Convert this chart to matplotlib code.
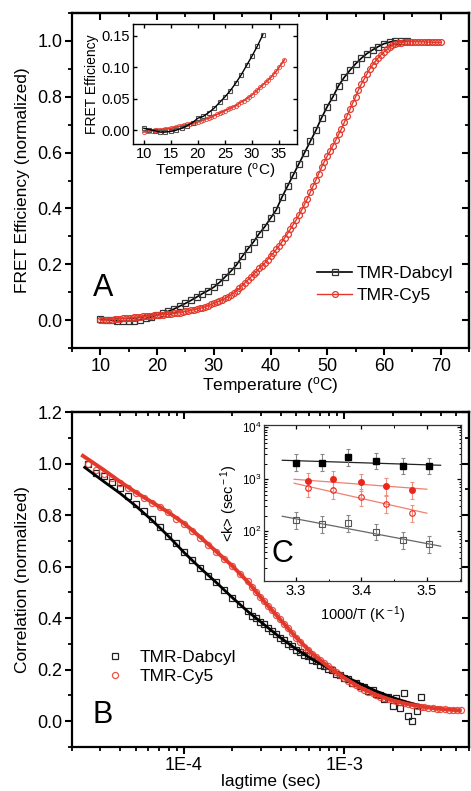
import matplotlib
matplotlib.use('Agg')
import math
import matplotlib.pyplot as plt
from matplotlib.ticker import MultipleLocator, FixedLocator, FuncFormatter, NullFormatter, LogLocator

plt.rcParams['font.family'] = ['Liberation Sans', 'DejaVu Sans']
plt.rcParams['mathtext.fontset'] = 'custom'
plt.rcParams['mathtext.rm'] = 'Liberation Sans'
plt.rcParams['mathtext.it'] = 'Liberation Sans:italic'

RED = '#e3392b'

# ---- panel A : normalized FRET efficiency vs temperature ----
temp_dabcyl = [10, 11, 12, 13, 14, 15, 16, 17, 18, 19,
               20, 21, 22, 23, 24, 25, 26, 27, 28, 29,
               30, 31, 32, 33, 34, 35, 36, 37, 38, 39,
               40, 41, 42, 43, 44, 45, 46, 47, 48, 49,
               50, 51, 52, 53, 54, 55, 56, 57, 58, 59,
               60, 61, 62, 63, 64]
fret_dabcyl = [0.003, 0.002, 0.0, -0.003, -0.004, -0.004, -0.003, 0.0, 0.006, 0.012,
               0.018, 0.025, 0.032, 0.040, 0.050, 0.060, 0.071, 0.083, 0.095, 0.106,
               0.118, 0.135, 0.155, 0.175, 0.198, 0.228, 0.255, 0.280, 0.310, 0.335,
               0.365, 0.395, 0.440, 0.480, 0.520, 0.560, 0.600, 0.640, 0.680, 0.725,
               0.765, 0.800, 0.840, 0.870, 0.895, 0.918, 0.938, 0.955, 0.968, 0.980,
               0.990, 0.996, 1.000, 1.000, 1.000]

temp_cy5 = [10.0, 10.5, 11.0, 11.5, 12.0, 12.5, 13.0, 13.5, 14.0, 14.5,
            15.0, 15.5, 16.0, 16.5, 17.0, 17.5, 18.0, 18.5, 19.0, 19.5,
            20.0, 20.5, 21.0, 21.5, 22.0, 22.5, 23.0, 23.5, 24.0, 24.5,
            25.0, 25.5, 26.0, 26.5, 27.0, 27.5, 28.0, 28.5, 29.0, 29.5,
            30.0, 30.5, 31.0, 31.5, 32.0, 32.5, 33.0, 33.5, 34.0, 34.5,
            35.0, 35.5, 36.0, 36.5, 37.0, 37.5, 38.0, 38.5, 39.0, 39.5,
            40.0, 40.5, 41.0, 41.5, 42.0, 42.5, 43.0, 43.5, 44.0, 44.5,
            45.0, 45.5, 46.0, 46.5, 47.0, 47.5, 48.0, 48.5, 49.0, 49.5,
            50.0, 50.5, 51.0, 51.5, 52.0, 52.5, 53.0, 53.5, 54.0, 54.5,
            55.0, 55.5, 56.0, 56.5, 57.0, 57.5, 58.0, 58.5, 59.0, 59.5,
            60.0, 60.5, 61.0, 61.5, 62.0, 62.5, 63.0, 63.5, 64.0, 64.5,
            65.0, 65.5, 66.0, 66.5, 67.0, 67.5, 68.0, 68.5, 69.0, 69.5,
            70.0]
fret_cy5 = [0.000, 0.000, 0.001, 0.001, 0.002, 0.003, 0.004, 0.005, 0.006, 0.007,
            0.008, 0.009, 0.010, 0.011, 0.012, 0.013, 0.014, 0.015, 0.016, 0.017,
            0.018, 0.019, 0.020, 0.021, 0.022, 0.023, 0.024, 0.025, 0.027, 0.029,
            0.031, 0.033, 0.035, 0.037, 0.040, 0.042, 0.045, 0.048, 0.052, 0.056,
            0.060, 0.064, 0.068, 0.073, 0.078, 0.084, 0.090, 0.097, 0.105, 0.114,
            0.124, 0.134, 0.144, 0.154, 0.164, 0.174, 0.185, 0.195, 0.205, 0.217,
            0.229, 0.241, 0.253, 0.266, 0.280, 0.295, 0.310, 0.326, 0.342, 0.358,
            0.375, 0.395, 0.415, 0.435, 0.458, 0.480, 0.502, 0.525, 0.548, 0.568,
            0.588, 0.605, 0.625, 0.645, 0.665, 0.685, 0.708, 0.732, 0.755, 0.778,
            0.800, 0.825, 0.845, 0.863, 0.882, 0.900, 0.914, 0.928, 0.940, 0.951,
            0.961, 0.970, 0.978, 0.984, 0.989, 0.992, 0.994, 0.996, 0.997, 0.998,
            0.998, 0.998, 0.997, 0.997, 0.997, 0.996, 0.996, 0.996, 0.995, 0.995,
            0.995]

# inset of A : raw FRET efficiency at low temperature
ins_temp_dabcyl = [10, 11, 12, 13, 14, 15, 16, 17, 18, 19, 20, 21,
                   22, 23, 24, 25, 26, 27, 28, 29, 30, 31, 32]
ins_fret_dabcyl = [0.003, 0.001, -0.001, -0.003, -0.003, -0.002, 0.0, 0.003, 0.007, 0.012, 0.019, 0.022,
                   0.028, 0.035, 0.044, 0.053, 0.063, 0.075, 0.088, 0.103, 0.118, 0.134, 0.152]
ins_temp_cy5 = [10.0, 10.5, 11.0, 11.5, 12.0, 12.5, 13.0, 13.5, 14.0, 14.5,
                15.0, 15.5, 16.0, 16.5, 17.0, 17.5, 18.0, 18.5, 19.0, 19.5,
                20.0, 20.5, 21.0, 21.5, 22.0, 22.5, 23.0, 23.5, 24.0, 24.5,
                25.0, 25.5, 26.0, 26.5, 27.0, 27.5, 28.0, 28.5, 29.0, 29.5,
                30.0, 30.5, 31.0, 31.5, 32.0, 32.5, 33.0, 33.5, 34.0, 34.5,
                35.0, 35.5, 36.0]
ins_fret_cy5 = [-0.003, -0.002, -0.001, -0.001, 0.0, 0.0, 0.001, 0.001, 0.002, 0.002,
                0.003, 0.004, 0.005, 0.006, 0.007, 0.008, 0.009, 0.010, 0.011, 0.012,
                0.013, 0.015, 0.016, 0.018, 0.019, 0.021, 0.023, 0.025, 0.027, 0.029,
                0.031, 0.033, 0.035, 0.037, 0.039, 0.042, 0.045, 0.047, 0.050, 0.053,
                0.056, 0.060, 0.064, 0.068, 0.072, 0.076, 0.080, 0.084, 0.089, 0.094,
                0.100, 0.106, 0.112]

# ---- panel B : FCS correlation curves ----
lagtime = [2.51e-5, 2.82e-5, 3.16e-5, 3.55e-5, 3.98e-5, 4.47e-5, 5.01e-5, 5.62e-5, 6.31e-5, 7.08e-5,
           7.94e-5, 8.91e-5, 1.00e-4, 1.12e-4, 1.26e-4, 1.41e-4, 1.58e-4, 1.78e-4, 2.00e-4, 2.24e-4,
           2.51e-4, 2.66e-4, 2.82e-4, 2.99e-4, 3.16e-4, 3.35e-4, 3.55e-4, 3.76e-4, 3.98e-4, 4.22e-4,
           4.47e-4, 4.73e-4, 5.01e-4, 5.31e-4, 5.62e-4, 5.96e-4, 6.31e-4, 6.68e-4, 7.08e-4, 7.50e-4,
           7.94e-4, 8.41e-4, 8.91e-4, 9.44e-4, 1.00e-3, 1.06e-3, 1.12e-3, 1.19e-3, 1.26e-3, 1.33e-3,
           1.41e-3, 1.50e-3, 1.58e-3, 1.68e-3, 1.78e-3, 1.88e-3, 2.00e-3, 2.11e-3, 2.24e-3, 2.37e-3,
           2.51e-3, 2.66e-3, 2.82e-3, 2.99e-3, 3.16e-3, 3.35e-3, 3.55e-3, 3.76e-3, 3.98e-3, 4.22e-3,
           4.47e-3, 4.73e-3, 5.01e-3, 5.31e-3]
corr_dabcyl = [1.000, 0.965, 0.950, 0.930, 0.905, 0.875, 0.845, 0.815, 0.785, 0.755,
               0.720, 0.690, 0.655, 0.625, 0.595, 0.565, 0.540, 0.510, 0.480, 0.455,
               0.428, 0.410, 0.402, 0.385, 0.376, 0.362, 0.350, 0.338, 0.322, 0.315,
               0.300, 0.292, 0.278, 0.270, 0.258, 0.252, 0.238, 0.232, 0.220, 0.214,
               0.203, 0.198, 0.185, 0.180, 0.168, 0.165, 0.150, 0.148, 0.136, 0.132,
               0.118, 0.120, 0.105, 0.102, 0.088, 0.095, 0.060, 0.090, 0.050, 0.110,
               0.020, 0.000, 0.040, 0.095]
corr_cy5 = [1.000, 0.975, 0.960, 0.945, 0.925, 0.905, 0.885, 0.865, 0.848, 0.832,
            0.812, 0.785, 0.765, 0.740, 0.713, 0.685, 0.657, 0.630, 0.603, 0.573,
            0.543, 0.522, 0.500, 0.482, 0.465, 0.448, 0.432, 0.414, 0.396, 0.378,
            0.360, 0.341, 0.323, 0.306, 0.290, 0.276, 0.262, 0.249, 0.237, 0.225,
            0.213, 0.201, 0.190, 0.179, 0.168, 0.158, 0.149, 0.139, 0.130, 0.122,
            0.115, 0.108, 0.102, 0.096, 0.091, 0.086, 0.081, 0.077, 0.073, 0.069,
            0.066, 0.063, 0.060, 0.057, 0.055, 0.053, 0.051, 0.049, 0.048, 0.046,
            0.045, 0.044, 0.043, 0.042]

fit_lag_dabcyl = [2.40e-5, 3.16e-5, 3.98e-5, 5.01e-5, 6.31e-5, 7.94e-5, 1.00e-4, 1.26e-4, 1.58e-4, 2.00e-4,
                  2.51e-4, 3.16e-4, 3.98e-4, 5.01e-4, 6.31e-4, 7.94e-4, 1.00e-3, 1.26e-3, 1.58e-3, 2.00e-3,
                  2.51e-3, 3.00e-3]
fit_dabcyl = [0.985, 0.930, 0.885, 0.835, 0.780, 0.720, 0.655, 0.595, 0.540, 0.480,
              0.425, 0.375, 0.325, 0.280, 0.240, 0.207, 0.175, 0.145, 0.117, 0.092,
              0.072, 0.058]
fit_lag_cy5 = [2.34e-5, 3.16e-5, 3.98e-5, 5.01e-5, 6.31e-5, 7.94e-5, 1.00e-4, 1.26e-4, 1.58e-4, 2.00e-4,
               2.51e-4, 3.16e-4, 3.98e-4, 5.01e-4, 6.31e-4, 7.94e-4, 1.00e-3, 1.26e-3, 1.58e-3, 2.00e-3,
               2.51e-3, 3.16e-3, 3.98e-3, 5.25e-3]
fit_cy5 = [1.030, 0.975, 0.930, 0.888, 0.850, 0.812, 0.768, 0.715, 0.660, 0.603,
           0.540, 0.465, 0.395, 0.325, 0.262, 0.212, 0.168, 0.130, 0.102, 0.081,
           0.066, 0.055, 0.048, 0.042]

# ---- inset C : relaxation rates vs 1000/T ----
invT_dabcyl = [3.300, 3.339, 3.379, 3.422, 3.463, 3.503]
invT_cy5 = [3.318, 3.357, 3.400, 3.438, 3.477]
k_dabcyl_fast = [2100, 2100, 2650, 2250, 1800, 1800]
k_dabcyl_slow = [163, 136, 143, 96, 67, 56]
k_cy5_fast = [915, 1000, 875, 735, 615]
k_cy5_slow = [671, 614, 450, 330, 222]
k_err_factor = 1.45
fit_x_dabcyl = [3.279, 3.521]
fit_x_cy5 = [3.297, 3.500]
fitk_dabcyl_fast = [2320, 1860]
fitk_dabcyl_slow = [194, 51.5]
fitk_cy5_fast = [1000, 643]
fitk_cy5_slow = [838, 222]


def style_main(ax):
    for s in ax.spines.values():
        s.set_linewidth(1.6)
    ax.tick_params(which='major', direction='out', length=5, width=1.5, labelsize=13, pad=2)
    ax.tick_params(which='minor', direction='out', length=3, width=1.3)
    ax.tick_params(top=False, right=False)


def mirror_ticks(ax, logx=False):
    # inward ticks on top / right like Origin
    top = ax.secondary_xaxis('top')
    right = ax.secondary_yaxis('right')
    if logx:
        top.set_xscale('log')
        top.xaxis.set_major_locator(LogLocator(base=10))
        top.xaxis.set_minor_locator(LogLocator(base=10, subs=range(2, 10)))
    else:
        top.xaxis.set_major_locator(ax.xaxis.get_major_locator())
        top.xaxis.set_minor_locator(ax.xaxis.get_minor_locator())
    right.yaxis.set_major_locator(ax.yaxis.get_major_locator())
    right.yaxis.set_minor_locator(ax.yaxis.get_minor_locator())
    for sec in (top, right):
        sec.tick_params(which='major', direction='in', length=5, width=1.5)
        sec.tick_params(which='minor', direction='in', length=3, width=1.3)
        sec.tick_params(which='both', labeltop=False, labelright=False, labelbottom=False, labelleft=False)
        for s in sec.spines.values():
            s.set_linewidth(1.6)


fig = plt.figure(figsize=(4.71, 7.91), dpi=100)

# panel A
axA = fig.add_axes([0.1529, 0.560, 0.843, 0.4235])
axA.plot(temp_dabcyl, fret_dabcyl, '-s', color='black', mec='#333333', mfc='none',
         ms=4.0, mew=0.9, lw=1.2, label='TMR-Dabcyl')
axA.plot(temp_cy5, fret_cy5, '-o', color=RED, mfc='none', ms=4.2, mew=0.9, lw=1.0,
         label='TMR-Cy5')
axA.set_xlim(5, 75)
axA.set_ylim(-0.1, 1.1)
axA.xaxis.set_major_locator(MultipleLocator(10))
axA.xaxis.set_minor_locator(MultipleLocator(5))
axA.yaxis.set_major_locator(MultipleLocator(0.2))
axA.yaxis.set_minor_locator(MultipleLocator(0.1))
axA.yaxis.set_major_formatter(FuncFormatter(lambda v, p: '%.1f' % v))
style_main(axA)
mirror_ticks(axA)
axA.set_xlabel(r'Temperature ($^{\rm o}$C)', fontsize=12.5, labelpad=0)
axA.set_ylabel('FRET Efficiency (normalized)', fontsize=12.5, labelpad=5)
axA.text(0.078, 0.18, 'A', transform=axA.transAxes, fontsize=22, ha='center', va='center')
axA.legend(loc='upper left', bbox_to_anchor=(0.6, 0.265), frameon=False, fontsize=12.5,
           handlelength=2.0, handletextpad=0.3, labelspacing=0.35, borderaxespad=0)

# inset of A
axI = fig.add_axes([0.2824, 0.818, 0.348, 0.1517])
axI.plot(ins_temp_cy5, ins_fret_cy5, 'o', color=RED, mfc='none', ms=3.0, mew=0.7, alpha=0.8)
axI.plot(ins_temp_cy5, ins_fret_cy5, '-', color=RED, lw=1.2)
axI.plot(ins_temp_dabcyl, ins_fret_dabcyl, 's', color='#555555', mfc='none', ms=3.0, mew=0.8)
axI.plot(ins_temp_dabcyl, ins_fret_dabcyl, '-', color='black', lw=1.0)
axI.set_xlim(8, 38.3)
axI.set_ylim(-0.022, 0.169)
axI.xaxis.set_major_locator(MultipleLocator(5))
axI.yaxis.set_major_locator(MultipleLocator(0.05))
axI.yaxis.set_major_formatter(FuncFormatter(lambda v, p: '%.2f' % v))
axI.tick_params(which='both', direction='in', length=3, width=1.0, labelsize=10.5, pad=2,
                top=True, right=True)
for s in axI.spines.values():
    s.set_linewidth(1.0)
axI.set_xlabel(r'Temperature ($^{\rm o}$C)', fontsize=11, labelpad=1)
axI.set_ylabel('FRET Efficiency', fontsize=10, labelpad=2)

# panel B
axB = fig.add_axes([0.1529, 0.0556, 0.843, 0.4235])
axB.set_xscale('log')
axB.plot(lagtime[:len(corr_dabcyl)], corr_dabcyl, 's', color='#222222', mfc='none',
         ms=4.2, mew=0.9, label='TMR-Dabcyl')
axB.plot(lagtime, corr_cy5, 'o', color=RED, mfc='none', ms=4.4, mew=0.9, alpha=0.85,
         label='TMR-Cy5')
axB.plot(fit_lag_dabcyl, fit_dabcyl, '-', color='black', lw=2.0)
axB.plot(fit_lag_cy5, fit_cy5, '-', color=RED, lw=2.8)
axB.set_xlim(2e-5, 6e-3)
axB.set_ylim(-0.1, 1.2)
axB.xaxis.set_major_locator(FixedLocator([1e-4, 1e-3]))
axB.xaxis.set_major_formatter(FuncFormatter(lambda v, p: '1E%d' % round(math.log10(v))))
axB.xaxis.set_minor_locator(LogLocator(base=10, subs=range(2, 10)))
axB.xaxis.set_minor_formatter(NullFormatter())
axB.yaxis.set_major_locator(MultipleLocator(0.2))
axB.yaxis.set_minor_locator(MultipleLocator(0.1))
axB.yaxis.set_major_formatter(FuncFormatter(lambda v, p: '%.1f' % v))
style_main(axB)
mirror_ticks(axB, logx=True)
axB.set_xlabel('lagtime (sec)', fontsize=12.5, labelpad=0)
axB.set_ylabel('Correlation (normalized)', fontsize=12.5, labelpad=5)
axB.text(0.076, 0.095, 'B', transform=axB.transAxes, fontsize=22, ha='center', va='center')
axB.legend(loc='upper left', bbox_to_anchor=(0.07, 0.31), frameon=False, fontsize=12.5,
           handlelength=1.0, handletextpad=0.9, labelspacing=0.2, borderaxespad=0)

# inset C
axC = fig.add_axes([0.5605, 0.2655, 0.418, 0.197])
axC.set_yscale('log')
ekw = dict(ecolor='#888888', elinewidth=0.8, capsize=1.5, capthick=0.8, ls='none')


def k_err(vals):
    return [[v - v / k_err_factor for v in vals], [v * k_err_factor - v for v in vals]]


axC.plot(fit_x_dabcyl, fitk_dabcyl_fast, '-', color='#222222', lw=0.9)
axC.plot(fit_x_dabcyl, fitk_dabcyl_slow, '-', color='#666666', lw=0.9)
axC.plot(fit_x_cy5, fitk_cy5_fast, '-', color='#f08070', lw=0.9)
axC.plot(fit_x_cy5, fitk_cy5_slow, '-', color='#f08070', lw=0.9)
axC.errorbar(invT_dabcyl, k_dabcyl_fast, yerr=k_err(k_dabcyl_fast), fmt='s', color='black',
             ms=4, mec='black', **ekw)
axC.errorbar(invT_dabcyl, k_dabcyl_slow, yerr=k_err(k_dabcyl_slow), fmt='s', color='#555555',
             mfc='none', ms=4, mew=0.8, **ekw)
axC.errorbar(invT_cy5, k_cy5_fast, yerr=k_err(k_cy5_fast), fmt='o', color='#e8281e',
             ms=4, **dict(ekw, ecolor='#f09080'))
axC.errorbar(invT_cy5, k_cy5_slow, yerr=k_err(k_cy5_slow), fmt='o', color='#e8281e',
             mfc='none', ms=4, mew=0.8, **dict(ekw, ecolor='#f09080'))
axC.set_xlim(3.251, 3.552)
axC.set_ylim(11, 1.1e4)
axC.xaxis.set_major_locator(MultipleLocator(0.1))
axC.xaxis.set_minor_locator(MultipleLocator(0.05))
axC.xaxis.set_major_formatter(FuncFormatter(lambda v, p: '%.1f' % v))
axC.yaxis.set_major_locator(FixedLocator([1e2, 1e3, 1e4]))
axC.yaxis.set_minor_locator(LogLocator(base=10, subs=range(2, 10)))
axC.yaxis.set_minor_formatter(NullFormatter())
axC.tick_params(which='major', direction='in', length=3, width=0.9, labelsize=10.5, pad=2,
                top=True, right=True)
axC.tick_params(which='minor', direction='in', length=1.8, width=0.7, top=True, right=True)
axC.tick_params(axis='y', labelsize=8.5)
for s in axC.spines.values():
    s.set_linewidth(0.9)
    s.set_color('#333333')
axC.set_xlabel(r'1000/T (K$^{\rm -1}$)', fontsize=10.5, labelpad=5)
axC.set_ylabel(r'<k> (sec$^{\rm -1}$)', fontsize=10.5, labelpad=1)
axC.text(0.096, 0.17, 'C', transform=axC.transAxes, fontsize=22, ha='center', va='center')

fig.savefig('out.png', dpi=100)
